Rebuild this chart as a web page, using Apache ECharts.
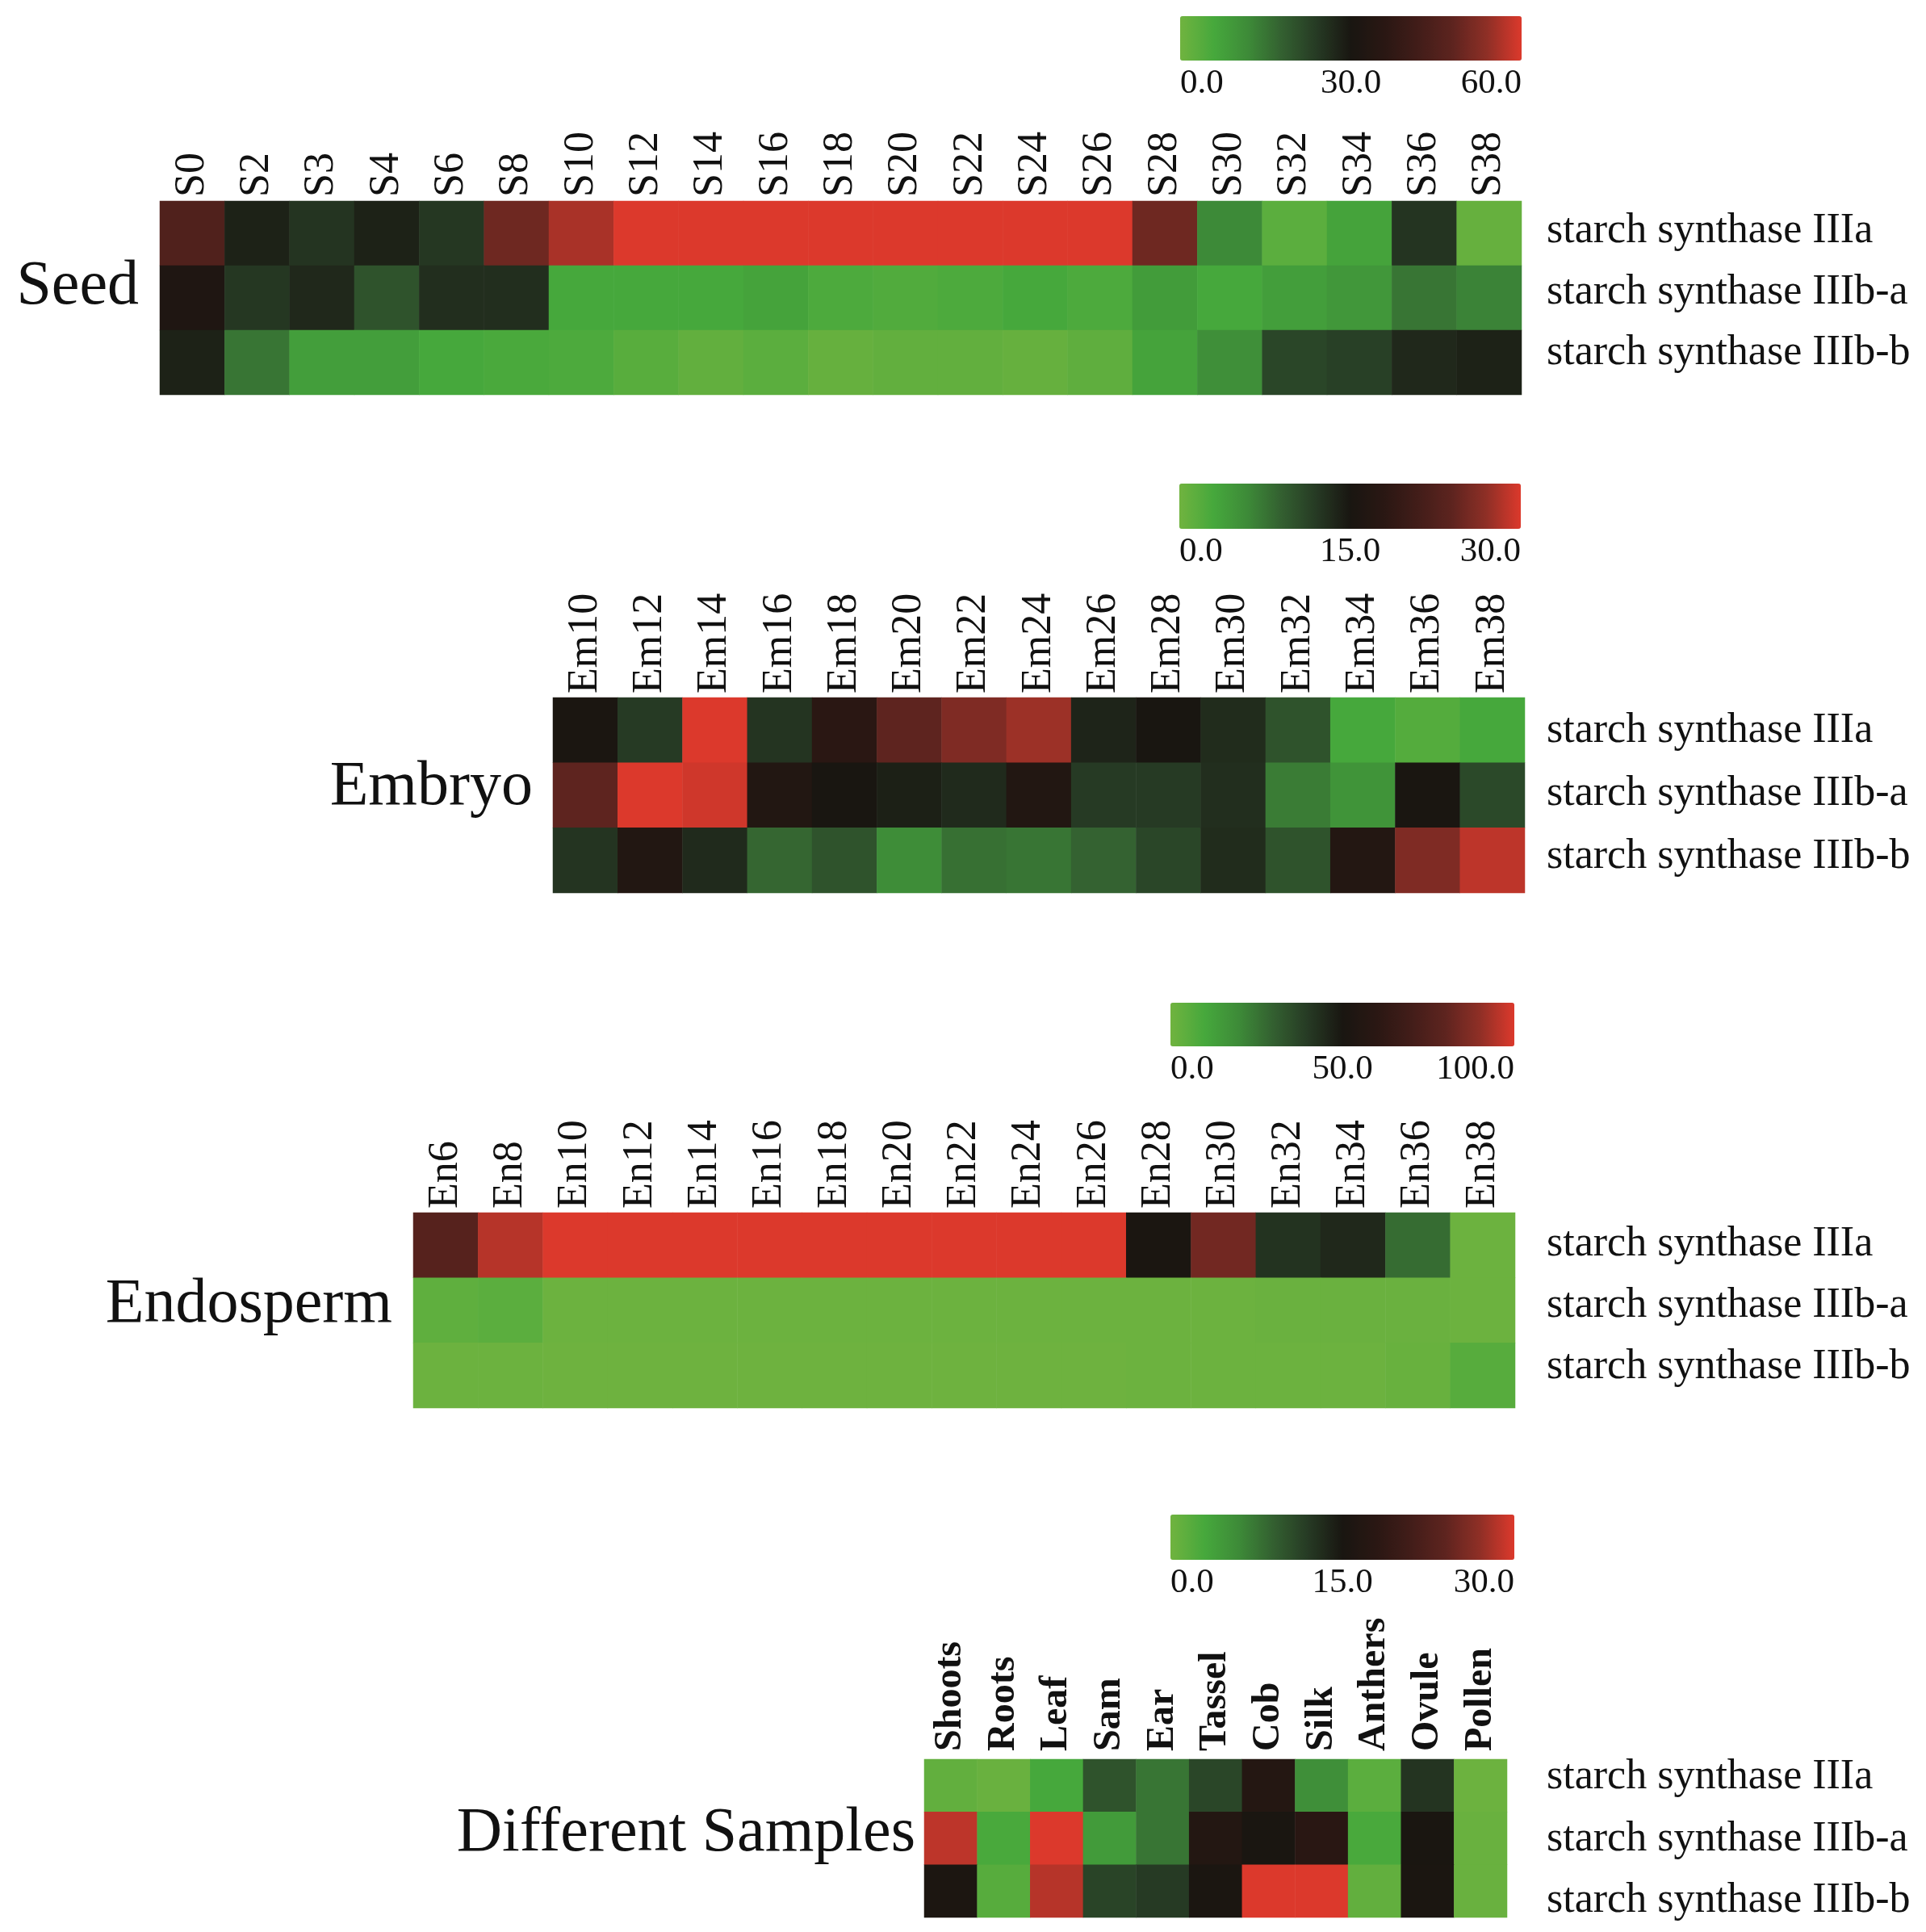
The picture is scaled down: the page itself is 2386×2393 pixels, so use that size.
<!DOCTYPE html>
<html>
<head>
<meta charset="utf-8">
<title>starch synthase III expression</title>
<script src="https://cdn.jsdelivr.net/npm/echarts@6/dist/echarts.min.js"></script>
<style>
  html, body { margin: 0; padding: 0; background: #fff; }
  #chart { width: 2386px; height: 2393px; }
</style>
</head>
<body>
<div id="chart"></div>
<script>
// genes (rows, same in every panel)
var genes = ['starch synthase IIIa', 'starch synthase IIIb-a', 'starch synthase IIIb-b'];

// Seed
var seedCols = ['S0','S2','S3','S4','S6','S8','S10','S12','S14','S16','S18','S20','S22','S24','S26','S28','S30','S32','S34','S36','S38'];
var seedIIIa  = [45, 28, 25, 28, 24.5, 50, 56, 60, 60, 60, 60, 60, 60, 60, 60, 50, 12, 3, 7, 25, 1.5];
var seedIIIba = [32, 24.5, 27, 20, 26, 26, 6, 6, 6, 7, 5, 4.5, 5, 6, 5, 8.5, 6, 8, 9.5, 15, 13];
var seedIIIbb = [28, 15, 8, 8, 6, 5.5, 5, 3.5, 2, 3, 1.5, 2, 2, 1.5, 2.5, 7, 11, 22, 23, 27, 28];
var seedTicks = [0, 30, 60];

// Embryo
var embryoCols = ['Em10','Em12','Em14','Em16','Em18','Em20','Em22','Em24','Em26','Em28','Em30','Em32','Em34','Em36','Em38'];
var embryoIIIa  = [15.3, 12, 30, 12.5, 18, 24, 26, 27.5, 13.8, 15, 13.2, 10, 3, 2, 3];
var embryoIIIba = [24, 30, 29.5, 16.5, 15, 14.2, 13.3, 16.5, 12, 12, 13, 7, 5, 15.2, 10.8];
var embryoIIIbb = [12.5, 16.5, 13.3, 8.5, 10, 5.7, 7.8, 7.5, 8.8, 11, 13.2, 10, 16.8, 26, 28.8];
var embryoTicks = [0, 15, 30];

// Endosperm
var endoCols = ['En6','En8','En10','En12','En14','En16','En18','En20','En22','En24','En26','En28','En30','En32','En34','En36','En38'];
var endoIIIa  = [77, 95, 100, 100, 100, 100, 100, 100, 100, 100, 100, 51, 84, 42, 45, 27, 1];
var endoIIIba = [4, 5, 1, 1, 1, 1, 1, 1, 1, 1, 1, 1, 1, 1.5, 1.5, 1.5, 1];
var endoIIIbb = [1, 1, 0.5, 0.5, 0.5, 0.5, 0.5, 0.5, 0.5, 0.5, 0.5, 1, 1, 1, 1, 2, 6];
var endoTicks = [0, 50, 100];

// Different samples
var sampleCols = ['Shoots','Roots','Leaf','Sam','Ear','Tassel','Cob','Silk','Anthers','Ovule','Pollen'];
var sampleIIIa  = [1, 0.5, 3, 10, 7.5, 11, 17, 5.5, 1.5, 12.5, 0.3];
var sampleIIIba = [28.8, 2.8, 30, 4.3, 7.5, 16.8, 15.2, 17.8, 2.8, 15.2, 0.5];
var sampleIIIbb = [15.5, 1.8, 28.5, 11.2, 12, 15.3, 30, 30, 1, 15.3, 0.5];
var sampleTicks = [0, 15, 30];

// green - black - red scale
var scaleColors = ['#70b33f','#46a83c','#3d8a38','#335f30','#263a24','#191611','#2a1713','#421d19','#5e241f','#8f2f26','#dc392c'];

var SERIF = '"Liberation Serif", "Times New Roman", serif';
var LABEL_X = 1916;   // row labels all start at the same x

var panels = [
  { title: 'Seed', cols: seedCols, rows: [seedIIIa, seedIIIba, seedIIIbb], ticks: seedTicks,
    grid: { left: 198, top: 249, width: 1687, height: 240 }, labels: { top: 249, height: 226 },
    bar: { left: 1462, top: 20, width: 423, height: 55 },
    titleX: 172, titleY: 356, labelBold: false },
  { title: 'Embryo', cols: embryoCols, rows: [embryoIIIa, embryoIIIba, embryoIIIbb], ticks: embryoTicks,
    grid: { left: 685, top: 864, width: 1204, height: 242 }, labels: { top: 866, height: 234 },
    bar: { left: 1461, top: 599, width: 423, height: 56 },
    titleX: 660, titleY: 976, labelBold: false },
  { title: 'Endosperm', cols: endoCols, rows: [endoIIIa, endoIIIba, endoIIIbb], ticks: endoTicks,
    grid: { left: 512, top: 1502, width: 1365, height: 242 }, labels: { top: 1503, height: 228 },
    bar: { left: 1450, top: 1242, width: 426, height: 54 },
    titleX: 486, titleY: 1617, labelBold: false },
  { title: 'Different Samples', cols: sampleCols, rows: [sampleIIIa, sampleIIIba, sampleIIIbb], ticks: sampleTicks,
    grid: { left: 1145, top: 2179, width: 722, height: 196 }, labels: { top: 2163, height: 234 },
    bar: { left: 1450, top: 1876, width: 426, height: 56 },
    titleX: 1134, titleY: 2272, labelBold: true }
];

var grids = [], xAxes = [], yAxes = [], series = [], visualMaps = [], graphics = [];
var n = panels.length;

// heatmap grids
panels.forEach(function (p, i) {
  var data = [];
  p.rows.forEach(function (vals, r) {
    vals.forEach(function (v, c) { data.push([c, r, v]); });
  });
  grids.push({ left: p.grid.left, top: p.grid.top, width: p.grid.width, height: p.grid.height });
  xAxes.push({
    type: 'category', gridIndex: i, data: p.cols, position: 'top',
    axisLine: { show: false }, axisTick: { show: false }, splitArea: { show: false },
    axisLabel: { interval: 0, rotate: -90, margin: p.labelBold ? 10 : 5, fontFamily: SERIF, fontSize: p.labelBold ? 48 : 52,
                 fontWeight: p.labelBold ? 'bold' : 'normal', color: '#111' }
  });
  yAxes.push({
    type: 'category', gridIndex: i, data: genes, inverse: true,
    axisLine: { show: false }, axisTick: { show: false }, axisLabel: { show: false }, splitArea: { show: false }
  });
  series.push({
    type: 'heatmap', xAxisIndex: i, yAxisIndex: i, data: data,
    itemStyle: { borderWidth: 0 }, emphasis: { disabled: true }
  });
  visualMaps.push({
    type: 'continuous', seriesIndex: i, min: 0, max: p.ticks[2], orient: 'horizontal',
    left: p.bar.left, top: p.bar.top, itemWidth: p.bar.height, itemHeight: p.bar.width,
    padding: 0, calculable: false, realtime: false, hoverLink: false,
    inRange: { color: scaleColors }
  });
  graphics.push({
    type: 'text', x: p.titleX, y: p.titleY,
    style: { text: p.title, font: 'normal 78px ' + SERIF, fill: '#111', align: 'right', verticalAlign: 'middle' }
  });
});

// tick label axes under each colour bar
panels.forEach(function (p, i) {
  var gi = n + i;
  grids.push({ left: p.bar.left, top: p.bar.top, width: p.bar.width, height: p.bar.height });
  xAxes.push({
    type: 'value', gridIndex: gi, min: p.ticks[0], max: p.ticks[2], interval: p.ticks[1],
    position: 'bottom', axisLine: { show: false }, axisTick: { show: false }, splitLine: { show: false },
    axisLabel: { margin: 7, fontFamily: SERIF, fontSize: 43, color: '#111', alignMinLabel: 'left', alignMaxLabel: 'right',
                 formatter: function (v) { return v.toFixed(1); } }
  });
  yAxes.push({ type: 'value', gridIndex: gi, show: false, min: 0, max: 1 });
});

// gene name axes on the right of each panel
panels.forEach(function (p, i) {
  var gi = 2 * n + i;
  grids.push({ left: p.grid.left, top: p.labels.top, width: LABEL_X - p.grid.left, height: p.labels.height });
  xAxes.push({ type: 'value', gridIndex: gi, show: false, min: 0, max: 1 });
  yAxes.push({
    type: 'category', gridIndex: gi, data: genes, inverse: true, position: 'right',
    axisLine: { show: false }, axisTick: { show: false }, splitLine: { show: false },
    axisLabel: { interval: 0, margin: 0, fontFamily: SERIF, fontSize: 52, color: '#111', align: 'left' }
  });
});

var chart = echarts.init(document.getElementById('chart'), null, { renderer: 'canvas' });
chart.setOption({
  backgroundColor: '#ffffff',
  animation: false,
  grid: grids,
  xAxis: xAxes,
  yAxis: yAxes,
  visualMap: visualMaps,
  series: series,
  graphic: graphics
});
</script>
</body>
</html>
